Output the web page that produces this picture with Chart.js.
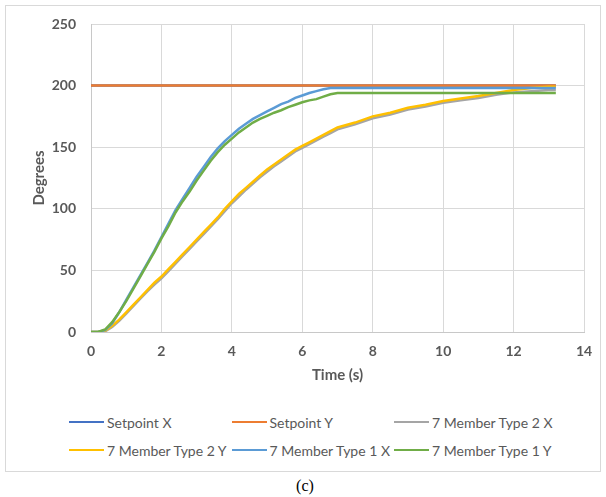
<!DOCTYPE html>
<html>
<head>
<meta charset="utf-8">
<title>Degrees vs Time</title>
<script src="https://cdn.jsdelivr.net/npm/chart.js"></script>
<style>
    body { margin: 0; background: #fff; }
    #wrap { position: relative; width: 606px; height: 497px; }
    #frame {
        position: absolute; left: 5px; top: 5px; width: 596px; height: 467px;
        box-sizing: border-box; border: 1px solid #d9d9d9;
    }
    #chart { position: absolute; left: 0; top: 0; }
    #legend {
        position: absolute; left: 69px; top: 408px;
        display: grid; grid-template-columns: repeat(3, 162.5px); grid-auto-rows: 28px;
        font-family: Lato, sans-serif; font-size: 14px; color: #595959;
    }
    .item { display: flex; align-items: center; white-space: nowrap; }
    .swatch { width: 35px; height: 2.5px; margin-right: 3px; flex: none; }
    #caption {
        position: absolute; left: 0; top: 477px; width: 610px; text-align: center;
        font-family: "Liberation Serif", serif; font-size: 16px; line-height: 18px; color: #000;
    }
</style>
</head>
<body>
<div id="wrap">
    <div id="frame"></div>
    <canvas id="chart" width="606" height="400"></canvas>
    <div id="legend"></div>
    <div id="caption">(c)</div>
</div>
<script>
// time base (s) shared by the four response curves
const time = [
    0, 0.2, 0.4, 0.6, 0.8, 1, 1.2, 1.4, 1.6, 1.8, 2, 2.2, 2.4, 2.6, 2.8, 3, 3.2, 3.4,
    3.6, 3.8, 4, 4.2, 4.4, 4.6, 4.8, 5, 5.2, 5.4, 5.6, 5.8, 6, 6.2, 6.4, 6.6, 6.8, 7,
    7.5, 8, 8.5, 9, 9.5, 10, 10.5, 11, 11.5, 12, 12.5, 13, 13.2
];

const setpointTime = [0, 13.2];
const setpointX = [200, 200];
const setpointY = [200, 200];

const type2X = [
    0, 0, 0.5, 4, 9, 15, 21, 27, 33, 38.5, 43.5, 49.5, 55.5, 61.5, 67.5, 73.5, 79.5, 85.5,
    91.5, 98, 104.5, 110, 115.5, 120.5, 125.5, 130, 134.5, 138.5, 142.5, 146.5, 149.5, 152.5, 155.5, 158.5, 161.5, 164.5,
    168.5, 173.5, 176.5, 180.5, 183, 186, 188, 190, 192.5, 194.5, 195.5, 196.5, 196.5
];

const type2Y = [
    0, 0, 1, 5, 10, 16, 22, 28, 34, 40, 45, 51, 57, 63, 69, 75, 81, 87,
    93, 100, 106, 112, 117, 122, 127, 132, 136, 140, 144, 148, 151, 154, 157, 160, 163, 166,
    170, 175, 178, 182, 184.5, 187.5, 189.5, 191.5, 194, 196.5, 198, 199, 199
];

const type1X = [
    0, 0, 1.5, 7, 16, 26, 36, 46, 56, 66, 77, 88, 99, 108, 117, 126, 134, 142,
    149, 155, 160, 165, 169, 173, 176, 179, 182, 185, 187, 190, 192, 194, 195.5, 197, 198, 198,
    198, 198, 198, 198, 198, 198, 198, 198, 198, 198, 198, 198, 198
];

const type1Y = [
    0, 0, 2, 8, 16, 25, 35, 45, 55, 65, 76, 86, 97, 106, 114, 123, 131, 139,
    146, 152, 157, 162, 166, 170, 173, 175.5, 178, 180, 182.5, 184.5, 186.5, 188, 189, 191, 193, 194,
    194, 194, 194, 194, 194, 194, 194, 194, 194, 194, 194, 194, 194
];

const xTicks = { min: 0, max: 14, step: 2 };
const yTicks = { min: 0, max: 250, step: 50 };

function points(xs, ys) {
    return xs.map((x, i) => ({ x: x, y: ys[i] }));
}

const series = [
    { label: 'Setpoint X', color: '#4472C4', data: points(setpointTime, setpointX) },
    { label: 'Setpoint Y', color: '#ED7D31', data: points(setpointTime, setpointY) },
    { label: '7 Member Type 2 X', color: '#A5A5A5', data: points(time, type2X) },
    { label: '7 Member Type 2 Y', color: '#FFC000', data: points(time, type2Y) },
    { label: '7 Member Type 1 X', color: '#5B9BD5', data: points(time, type1X) },
    { label: '7 Member Type 1 Y', color: '#70AD47', data: points(time, type1Y) }
];

const tickFont = { family: 'Lato', size: 14, weight: 'bold' };
const titleFont = { family: 'Lato', size: 15, weight: 'bold' };

const chart = new Chart(document.getElementById('chart'), {
    type: 'line',
    data: {
        // later series sit on top, so give them a lower order
        datasets: series.map((s, i) => ({
            label: s.label,
            data: s.data,
            borderColor: s.color,
            backgroundColor: s.color,
            borderWidth: 2.5,
            pointRadius: 0,
            tension: 0,
            fill: false,
            order: series.length - i
        }))
    },
    options: {
        responsive: false,
        animation: false,
        layout: { padding: { left: 0, top: 24, right: 22, bottom: 0 } },
        plugins: {
            legend: { display: false },
            tooltip: { enabled: false }
        },
        scales: {
            x: {
                type: 'linear',
                min: xTicks.min,
                max: xTicks.max,
                ticks: { stepSize: xTicks.step, padding: 11, color: '#595959', font: tickFont },
                grid: { color: '#d9d9d9', drawTicks: false },
                border: { color: '#c8c8c8' },
                title: {
                    display: true, text: 'Time (s)', color: '#595959', font: titleFont,
                    padding: { top: 0, bottom: 16 }
                },
                afterFit: s => { s.height = 68; }
            },
            y: {
                min: yTicks.min,
                max: yTicks.max,
                ticks: { stepSize: yTicks.step, padding: 15, color: '#595959', font: tickFont },
                grid: { color: '#d9d9d9', drawTicks: false },
                border: { color: '#c8c8c8' },
                title: {
                    display: true, text: 'Degrees', color: '#595959', font: titleFont,
                    padding: { top: 30, bottom: 0 }
                },
                afterFit: s => { s.width = 91; }
            }
        }
    }
});

// legend laid out as a fixed three-column grid
const legend = document.getElementById('legend');
chart.data.datasets.forEach(ds => {
    const item = document.createElement('div');
    item.className = 'item';
    const swatch = document.createElement('span');
    swatch.className = 'swatch';
    swatch.style.background = ds.borderColor;
    const text = document.createElement('span');
    text.textContent = ds.label;
    item.appendChild(swatch);
    item.appendChild(text);
    legend.appendChild(item);
});
</script>
</body>
</html>
